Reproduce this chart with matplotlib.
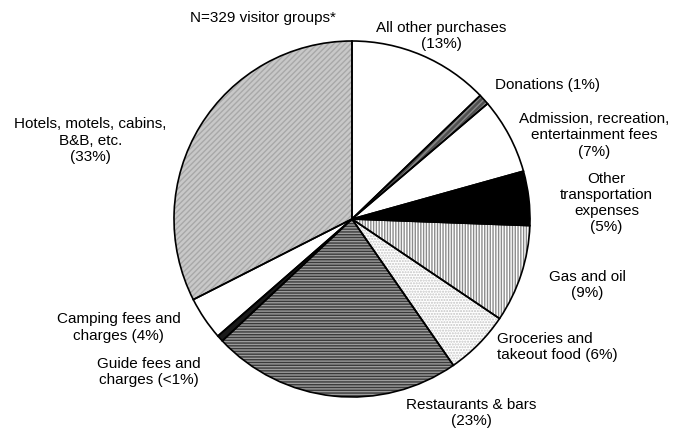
import numpy as np
import matplotlib.pyplot as plt

plt.rcParams['font.family'] = ['Liberation Sans', 'DejaVu Sans']
plt.rcParams['hatch.linewidth'] = 1.0

# spending categories, clockwise from 12 o'clock
labels = ["All other purchases\n(13%)", "Donations (1%)",
          "Admission, recreation,\nentertainment fees\n(7%)",
          "Other\ntransportation\nexpenses\n(5%)", "Gas and oil\n(9%)",
          "Groceries and\ntakeout food (6%)", "Restaurants & bars\n(23%)",
          "Guide fees and\ncharges (<1%)", "Camping fees and\ncharges (4%)",
          "Hotels, motels, cabins,\nB&B, etc.\n(33%)"]
shares = [13, 1, 7, 5, 9, 6, 23, 0.6, 4, 33]

faces = ['white', '#505050', 'white', 'black', 'white', 'white', '#9c9c9c',
         '#1a1a1a', 'white', '#c8c8c8']
hatches = ['', '//////', '', '', '||||||', '......', '------', '', '', '//////']
hatch_cols = ['none', '#888888', 'none', 'none', '#8c8c8c', '#c4c4c4', '#3a3a3a',
              'none', 'none', '#a8a8a8']

# label positions in pie-radius units, with alignment
label_xy = [(0.50, 1.03, 'center'), (1.10, 0.75, 'center'), (1.36, 0.47, 'center'),
            (1.43, 0.09, 'center'), (1.32, -0.37, 'center'), (0.815, -0.72, 'left'),
            (0.67, -1.09, 'center'), (-1.14, -0.86, 'center'), (-1.31, -0.61, 'center'),
            (-1.47, 0.44, 'center')]

fig = plt.figure(figsize=(6.74, 4.28), dpi=100)
ax = fig.add_axes([174 / 674, 31 / 428, 356 / 674, 356 / 428])

common = dict(startangle=90, counterclock=False, radius=1.0)
# filled wedges
ax.pie(shares, colors=faces, wedgeprops=dict(linewidth=0), **common)
# hatch patterns on top
wedges, _ = ax.pie(shares, colors=['none'] * len(shares), **common,
                   wedgeprops=dict(linewidth=0))
for w, h, c in zip(wedges, hatches, hatch_cols):
    w.set_hatch(h)
    w.set_edgecolor(c)
# black outlines
ax.pie(shares, colors=['none'] * len(shares), **common,
       wedgeprops=dict(edgecolor='black', linewidth=1.2))

for lab, (x, y, ha) in zip(labels, label_xy):
    ax.text(x, y, lab, ha=ha, va='center', fontsize=11, clip_on=False,
            multialignment=ha)

ax.text(-0.50, 1.13, "N=329 visitor groups*", ha='center', va='center',
        fontsize=11, clip_on=False)

ax.set_xlim(-1, 1)
ax.set_ylim(-1, 1)
ax.set_aspect('auto')
ax.axis('off')

fig.savefig('out.png', dpi=100, facecolor='white')
